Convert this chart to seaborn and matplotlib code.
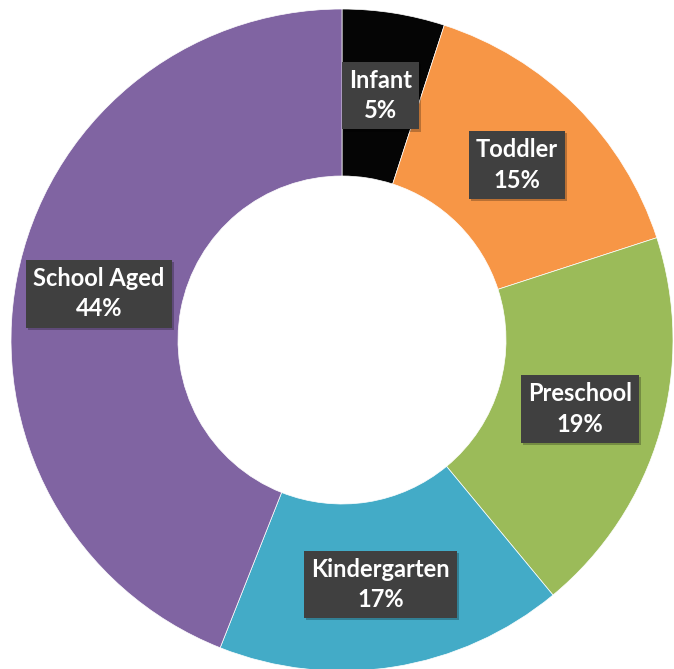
import numpy as np
import matplotlib
matplotlib.use("Agg")
import matplotlib.pyplot as plt
import matplotlib.patheffects as pe
import seaborn as sns

# Age groups and their share of enrolment (%)
groups = ["Infant", "Toddler", "Preschool", "Kindergarten", "School Aged"]
shares = [5, 15, 19, 17, 44]
colors = ["#050505", "#F79646", "#9BBB59", "#43ABC7", "#8064A2"]

sns.set_theme(style="white")
plt.rcParams["font.family"] = ["Lato", "DejaVu Sans"]

W, H = 674, 669
fig = plt.figure(figsize=(W / 100, H / 100), dpi=100)
ax = fig.add_axes([0, 0, 1, 1])

cx, cy = 342, H - 340
r_out, r_in = 331, 164
palette = sns.color_palette(colors)

wedges, _ = ax.pie(
    shares,
    colors=palette,
    radius=r_out,
    center=(cx, cy),
    startangle=90,
    counterclock=False,
    wedgeprops=dict(width=r_out - r_in, edgecolor="white", linewidth=0.5),
)
ax.set_xlim(0, W)
ax.set_ylim(0, H)
ax.set_aspect("equal")
ax.axis("off")

# Labels sit in the middle of the ring, at each wedge's mid angle
r_mid = (r_out + r_in) / 2
cum = np.cumsum([0] + shares)
for name, s, a0 in zip(groups, shares, cum[:-1]):
    frac = (a0 + s / 2) / sum(shares)
    ang = np.deg2rad(90 - 360 * frac)
    x = cx + r_mid * np.cos(ang)
    y = cy + r_mid * np.sin(ang)
    t = ax.text(
        x, y, f"{name}\n{s}%",
        ha="center", va="center", ma="center",
        fontsize=17, fontweight="bold", color="white",
        linespacing=1.4,
        bbox=dict(boxstyle="square,pad=0.3", facecolor="#404040", edgecolor="none"),
    )
    t.get_bbox_patch().set_path_effects([
        pe.withSimplePatchShadow(offset=(1.5, -1.5), shadow_rgbFace="black", alpha=0.25)
    ])

fig.savefig("out.png", dpi=100)
